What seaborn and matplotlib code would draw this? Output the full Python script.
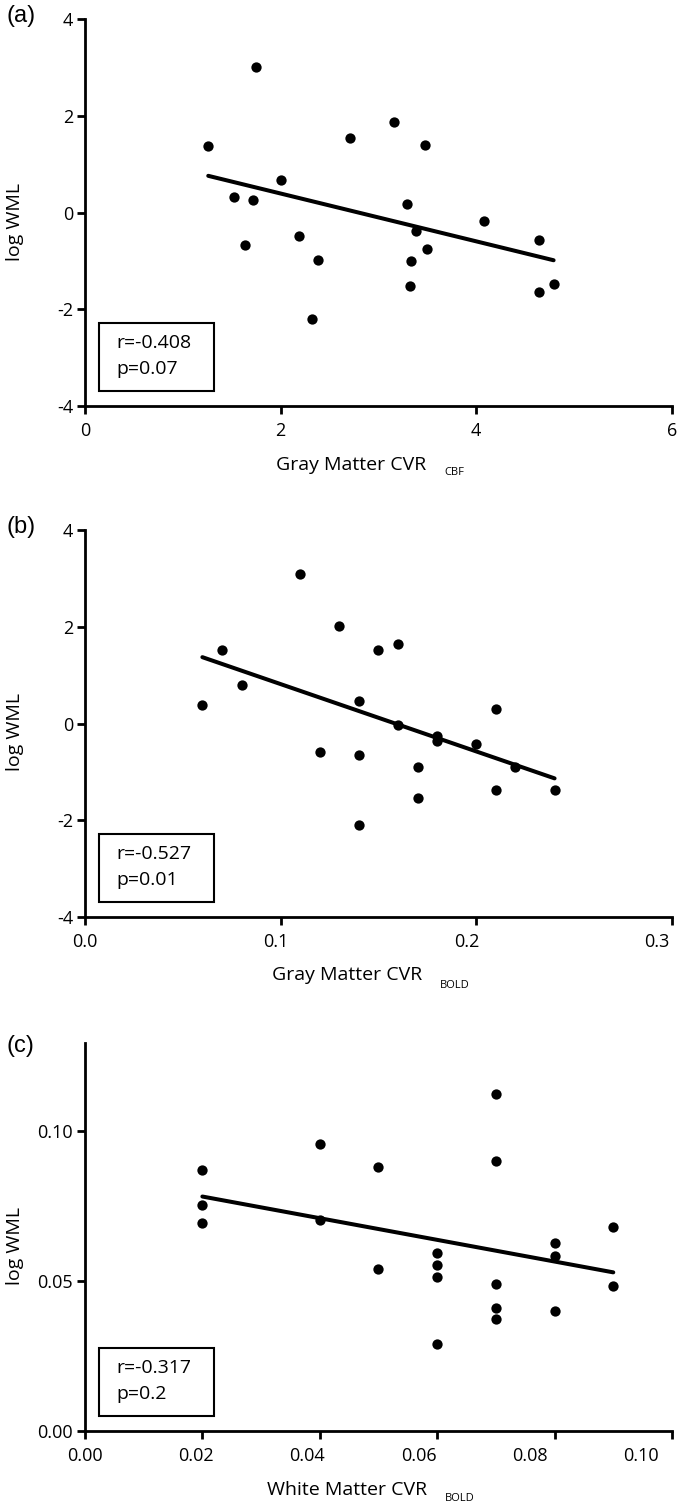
import numpy as np
import pandas as pd
import matplotlib
matplotlib.use("Agg")
import matplotlib.pyplot as plt
import seaborn as sns
from matplotlib.patches import Rectangle
from matplotlib.transforms import ScaledTranslation

# (a) Gray Matter CVR (CBF) vs log WML
a_x = [1.26, 1.75, 1.52, 1.72, 1.64, 2.00, 2.19, 2.38, 2.32, 2.71, 3.16,
       3.48, 3.29, 3.38, 3.33, 3.50, 3.32, 4.08, 4.64, 4.64, 4.79]
a_y = [1.39, 3.01, 0.32, 0.27, -0.66, 0.67, -0.48, -0.98, -2.19, 1.54, 1.87,
       1.41, 0.19, -0.38, -0.99, -0.75, -1.51, -0.17, -0.56, -1.64, -1.48]
a_xticks = [0, 2, 4, 6]
a_xticklabels = ["0", "2", "4", "6"]
a_yticks = [-4, -2, 0, 2, 4]
a_yticklabels = ["-4", "-2", "0", "2", "4"]
a_stats = ["r=-0.408", "p=0.07"]

# (b) Gray Matter CVR (BOLD) vs log WML
b_x = [0.06, 0.07, 0.08, 0.11, 0.13, 0.12, 0.14, 0.14, 0.14, 0.15, 0.16,
       0.16, 0.17, 0.17, 0.18, 0.18, 0.20, 0.21, 0.21, 0.22, 0.24]
b_y = [0.39, 1.52, 0.79, 3.10, 2.01, -0.58, 0.46, -0.66, -2.10, 1.52, 1.64,
       -0.02, -0.90, -1.53, -0.25, -0.37, -0.42, 0.30, -1.38, -0.90, -1.37]
b_xticks = [0.0, 0.1, 0.2, 0.3]
b_xticklabels = ["0.0", "0.1", "0.2", "0.3"]
b_yticks = [-4, -2, 0, 2, 4]
b_yticklabels = ["-4", "-2", "0", "2", "4"]
b_stats = ["r=-0.527", "p=0.01"]

# (c) White Matter CVR (BOLD) vs log WML
c_x = [0.02, 0.02, 0.02, 0.04, 0.04, 0.05, 0.05, 0.06, 0.06, 0.06, 0.06,
       0.07, 0.07, 0.07, 0.07, 0.07, 0.08, 0.08, 0.08, 0.09, 0.09]
c_y = [0.0870, 0.0753, 0.0692, 0.0955, 0.0704, 0.0878, 0.0541, 0.0592, 0.0554,
       0.0513, 0.0290, 0.1123, 0.0898, 0.0489, 0.0410, 0.0373, 0.0625, 0.0584,
       0.0400, 0.0681, 0.0483]
c_xticks = [0.00, 0.02, 0.04, 0.06, 0.08, 0.10]
c_xticklabels = ["0.00", "0.02", "0.04", "0.06", "0.08", "0.10"]
c_yticks = [0.00, 0.05, 0.10]
c_yticklabels = ["0.00", "0.05", "0.10"]
c_stats = ["r=-0.317", "p=0.2"]

sns.set_theme(style="ticks", rc={"axes.edgecolor": "black", "xtick.color": "black",
                                 "ytick.color": "black", "text.color": "black",
                                 "axes.labelcolor": "black"})
plt.rcParams['font.family'] = ['Open Sans', 'DejaVu Sans']

fig = plt.figure(figsize=(6.82, 15.08), dpi=100)

# panel positions (fig fraction)
# squeeze: in the original the x tick labels drift left of their ticks
panels = [
    dict(letter="(a)", letter_y=16, rect=[0.1246, 0.7308, 0.8607, 0.2563],
         x=a_x, y=a_y, xlim=(0, 6), ylim=(-4, 4), squeeze=1.0,
         xt=a_xticks, xtl=a_xticklabels, yt=a_yticks, ytl=a_yticklabels,
         xlabel="Gray Matter CVR", sub="CBF", xl_pos=(0.453, -0.153), sub_pos=(0.613, -0.173),
         stats=a_stats),
    dict(letter="(b)", letter_y=527, rect=[0.1246, 0.3919, 0.8607, 0.2566],
         x=b_x, y=b_y, xlim=(0, 0.3), ylim=(-4, 4), squeeze=0.975,
         xt=b_xticks, xtl=b_xticklabels, yt=b_yticks, ytl=b_yticklabels,
         xlabel="Gray Matter CVR", sub="BOLD", xl_pos=(0.446, -0.150), sub_pos=(0.605, -0.176),
         stats=b_stats),
    dict(letter="(c)", letter_y=1046, rect=[0.1246, 0.0511, 0.8607, 0.2573],
         x=c_x, y=c_y, xlim=(0, 0.10), ylim=(0, 0.1293), squeeze=0.947,
         xt=c_xticks, xtl=c_xticklabels, yt=c_yticks, ytl=c_yticklabels,
         xlabel="White Matter CVR", sub="BOLD", xl_pos=(0.446, -0.152), sub_pos=(0.613, -0.175),
         stats=c_stats),
]

for p in panels:
    ax = fig.add_axes(p["rect"])
    df = pd.DataFrame({"cvr": p["x"], "wml": p["y"]})
    sns.regplot(data=df, x="cvr", y="wml", ax=ax, ci=None, color="black",
                scatter_kws={"s": 55, "linewidths": 0, "alpha": 1},
                line_kws={"linewidth": 2.9})

    ax.set_xlim(*p["xlim"])
    ax.set_ylim(*p["ylim"])
    ax.set_xticks(p["xt"])
    ax.set_xticklabels(p["xtl"])
    ax.set_yticks(p["yt"])
    ax.set_yticklabels(p["ytl"])
    ax.set_xlabel("")
    ax.set_ylabel("")
    sns.despine(ax=ax)
    for s in ["left", "bottom"]:
        ax.spines[s].set_linewidth(2)
    ax.tick_params(axis="both", width=2, length=5.5, labelsize=13)
    ax.tick_params(axis="x", pad=6)
    ax.tick_params(axis="y", pad=3)

    # shift x tick labels leftwards like the reference
    ax_w_px = p["rect"][2] * fig.get_figwidth() * fig.dpi
    x0, x1 = p["xlim"]
    for v, lab in zip(p["xt"], ax.get_xticklabels()):
        dx = -(1 - p["squeeze"]) * (v - x0) / (x1 - x0) * ax_w_px
        lab.set_transform(lab.get_transform() + ScaledTranslation(dx / fig.dpi, 0, fig.dpi_scale_trans))

    # axis labels, subscript placed apart like the original
    ax.text(-0.119, 0.477, "log WML", rotation=90, transform=ax.transAxes,
            ha="center", va="center", fontsize=14)
    ax.text(p["xl_pos"][0], p["xl_pos"][1], p["xlabel"], transform=ax.transAxes,
            ha="center", va="center", fontsize=14)
    ax.text(p["sub_pos"][0], p["sub_pos"][1], p["sub"], transform=ax.transAxes,
            ha="left", va="center", fontsize=8)

    # stats box
    ax.add_patch(Rectangle((0.024, 0.038), 0.195, 0.177, transform=ax.transAxes,
                           fill=False, edgecolor="black", linewidth=1.5, clip_on=False))
    ax.text(0.053, 0.162, p["stats"][0], transform=ax.transAxes, ha="left", va="center", fontsize=14)
    ax.text(0.053, 0.095, p["stats"][1], transform=ax.transAxes, ha="left", va="center", fontsize=14)

    fig.text(7 / 682, 1 - p["letter_y"] / 1508, p["letter"], ha="left", va="center",
             fontsize=17, family=["Liberation Sans", "DejaVu Sans"])

fig.savefig("out.png", dpi=100)
